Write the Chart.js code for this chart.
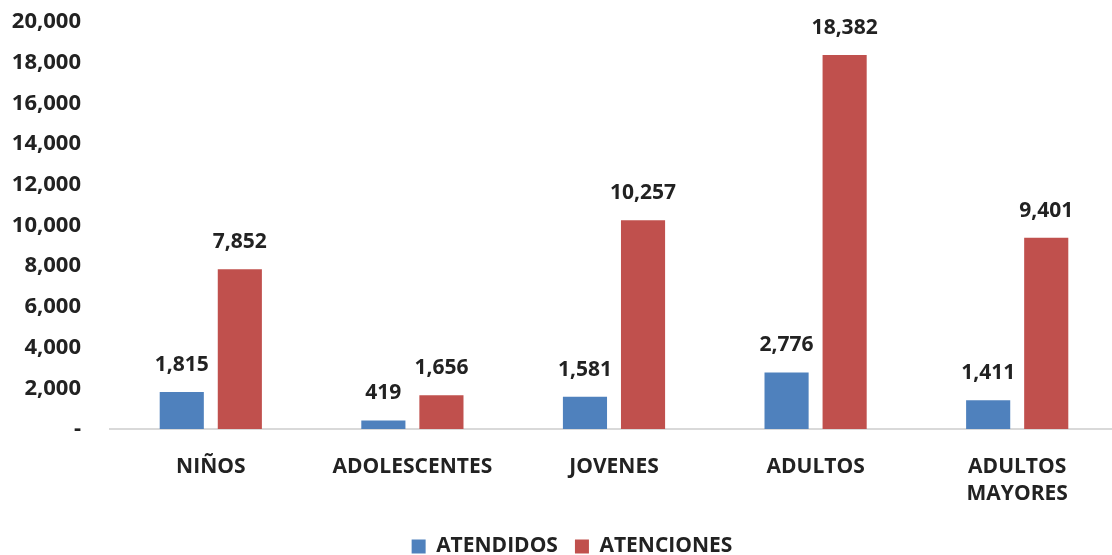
<!DOCTYPE html>
<html>
<head>
<meta charset="utf-8">
<script src="https://cdn.jsdelivr.net/npm/chart.js@4/dist/chart.umd.min.js"></script>
<style>
  html, body { margin: 0; padding: 0; background: #fff; overflow: hidden; }
  #wrap { width: 1118px; height: 555px; }
</style>
</head>
<body>
<div id="wrap"><canvas id="chart" width="1118" height="555"></canvas></div>
<script>
const categories = ['NIÑOS', 'ADOLESCENTES', 'JOVENES', 'ADULTOS', ['ADULTOS', 'MAYORES']];
const atendidos = [1815, 419, 1581, 2776, 1411];
const atenciones = [7852, 1656, 10257, 18382, 9401];
const yTicks = [0, 2000, 4000, 6000, 8000, 10000, 12000, 14000, 16000, 18000, 20000];

const FONT = '"Open Sans", sans-serif';
const SIZE = 21;
const TEXT = '#222';

function fmt(v) {
  return v === 0 ? '-' : v.toLocaleString('en-US');
}

// draws the value above each bar
const valueLabels = {
  id: 'valueLabels',
  afterDatasetsDraw(chart) {
    const ctx = chart.ctx;
    ctx.save();
    ctx.font = 'bold ' + SIZE + 'px ' + FONT;
    ctx.fillStyle = TEXT;
    ctx.textAlign = 'center';
    ctx.textBaseline = 'middle';
    chart.data.datasets.forEach((ds, i) => {
      chart.getDatasetMeta(i).data.forEach((bar, j) => {
        ctx.fillText(fmt(ds.data[j]), bar.x, bar.y - 27);
      });
    });
    ctx.restore();
  }
};

// the legend in the original sits a little right of the canvas centre
const legendShift = {
  id: 'legendShift',
  afterLayout(chart) {
    if (chart.legend) {
      chart.legend.left += 13;
      chart.legend.right += 13;
    }
  }
};

function draw() {
  new Chart(document.getElementById('chart'), {
    type: 'bar',
    data: {
      labels: categories,
      datasets: [
        { label: 'ATENDIDOS', data: atendidos, backgroundColor: '#4F81BD' },
        { label: 'ATENCIONES', data: atenciones, backgroundColor: '#C0504D' }
      ]
    },
    options: {
      responsive: false,
      animation: false,
      categoryPercentage: 0.576,
      barPercentage: 0.76,
      layout: { padding: { top: 22, left: 0, right: 0, bottom: -12 } },
      plugins: {
        tooltip: { enabled: false },
        legend: {
          position: 'bottom',
          labels: {
            font: { family: FONT, size: SIZE, weight: 'bold' },
            color: TEXT,
            boxWidth: 14,
            boxHeight: 14,
            padding: 17
          }
        }
      },
      scales: {
        x: {
          grid: { display: false, drawTicks: false },
          border: { display: true, color: '#d9d9d9', width: 2 },
          ticks: {
            font: { family: FONT, size: SIZE, weight: 'bold', lineHeight: 1.3 },
            color: TEXT,
            padding: 24,
            maxRotation: 0,
            autoSkip: false
          },
          afterFit(scale) { scale.height = 90; }
        },
        y: {
          min: 0,
          max: 20000,
          grid: { display: false, drawTicks: true, tickLength: 29 },
          border: { display: false },
          afterBuildTicks(scale) { scale.ticks = yTicks.map(v => ({ value: v })); },
          ticks: {
            font: { family: FONT, size: 22, weight: 'bold' },
            color: TEXT,
            padding: 0,
            callback: v => fmt(v)
          },
          afterFit(scale) { scale.width = 110; }
        }
      }
    },
    plugins: [valueLabels, legendShift]
  });
}

document.fonts.load('bold ' + SIZE + 'px "Open Sans"').then(draw, draw);
</script>
</body>
</html>
